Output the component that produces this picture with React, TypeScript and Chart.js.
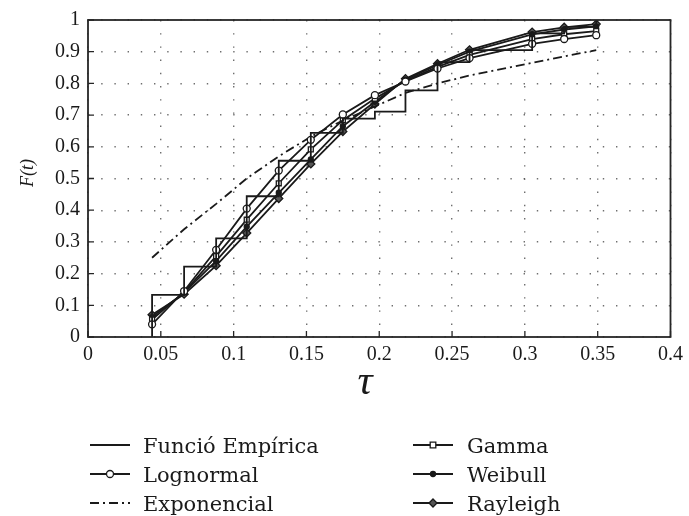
import React, { useEffect, useRef } from "react";
import { Chart, registerables } from "chart.js";
Chart.register(...registerables);

// sample points (τ) and CDF values
const tau = [0.044, 0.066, 0.088, 0.109, 0.131, 0.153, 0.175, 0.197, 0.218, 0.24, 0.262, 0.305, 0.327, 0.349];
const empirical = [0.133, 0.222, 0.311, 0.444, 0.556, 0.644, 0.689, 0.711, 0.778, 0.867, 0.905, 0.958, 0.978, 1.0];
const lognormal = [0.04, 0.145, 0.275, 0.405, 0.525, 0.622, 0.702, 0.763, 0.806, 0.847, 0.88, 0.925, 0.94, 0.952];
const gamma = [0.055, 0.142, 0.255, 0.37, 0.485, 0.592, 0.684, 0.752, 0.808, 0.852, 0.89, 0.94, 0.955, 0.965];
const weibull = [0.063, 0.14, 0.24, 0.348, 0.455, 0.56, 0.665, 0.742, 0.812, 0.858, 0.9, 0.955, 0.97, 0.98];
const rayleigh = [0.07, 0.135, 0.225, 0.328, 0.437, 0.546, 0.648, 0.735, 0.815, 0.862, 0.906, 0.962, 0.977, 0.987];
const exponencial = [0.25, 0.34, 0.42, 0.5, 0.57, 0.632, 0.683, 0.727, 0.77, 0.8, 0.825, 0.865, 0.885, 0.905];

const seriesNames = ["Funció Empírica", "Lognormal", "Exponencial", "Gamma", "Weibull", "Rayleigh"];
const xTickStep = 0.05;
const yTickStep = 0.1;
const xTitle = "τ";
const yTitle = "F(t)";

const INK = "#1a1a1a";

function drawMarker(ctx: CanvasRenderingContext2D, style: string, x: number, y: number, r: number, fill: string) {
  ctx.save();
  ctx.beginPath();
  if (style === "circle") {
    ctx.arc(x, y, r, 0, Math.PI * 2);
  } else if (style === "rect") {
    ctx.rect(x - r * 0.8, y - r * 0.8, r * 1.6, r * 1.6);
  } else if (style === "rectRot") {
    ctx.moveTo(x, y - r);
    ctx.lineTo(x + r, y);
    ctx.lineTo(x, y + r);
    ctx.lineTo(x - r, y);
    ctx.closePath();
  }
  ctx.fillStyle = fill;
  ctx.fill();
  ctx.lineWidth = 1.3;
  ctx.setLineDash([]);
  ctx.strokeStyle = INK;
  ctx.stroke();
  ctx.restore();
}

const decorPlugin = {
  id: "decor",
  afterDraw(chart: any) {
    const { ctx, chartArea, scales } = chart;
    const { left, right, top, bottom } = chartArea;
    const x = scales.x;
    const y = scales.y;
    ctx.save();
    // frame
    ctx.strokeStyle = "#262626";
    ctx.lineWidth = 1.8;
    ctx.setLineDash([]);
    ctx.strokeRect(left, top, right - left, bottom - top);
    // inward ticks
    ctx.lineWidth = 1.3;
    ctx.beginPath();
    y.ticks.forEach((t: any) => {
      const py = y.getPixelForValue(t.value);
      ctx.moveTo(left, py);
      ctx.lineTo(left + 6, py);
    });
    x.ticks.forEach((t: any) => {
      const px = x.getPixelForValue(t.value);
      ctx.moveTo(px, bottom);
      ctx.lineTo(px, bottom - 6);
    });
    ctx.stroke();

    // axis titles
    ctx.fillStyle = INK;
    ctx.textAlign = "center";
    ctx.textBaseline = "middle";
    ctx.save();
    ctx.translate(28, 173);
    ctx.rotate(-Math.PI / 2);
    ctx.font = 'italic 18px "Liberation Serif"';
    ctx.fillText(yTitle, 0, 0);
    ctx.restore();
    ctx.font = 'italic 42px "Liberation Serif"';
    ctx.fillText(xTitle, 365, 383);

    // legend
    const colLine = [90, 413];
    const colText = [143, 467];
    const rowLine = [445, 474, 503];
    const rowBase = [453, 482, 511];
    ctx.font = '21px "DejaVu Serif"';
    ctx.textAlign = "left";
    ctx.textBaseline = "alphabetic";
    chart.data.datasets.forEach((ds: any, i: number) => {
      const col = i < 3 ? 0 : 1;
      const row = i % 3;
      const x0 = colLine[col];
      const ly = rowLine[row];
      ctx.save();
      ctx.strokeStyle = INK;
      ctx.lineWidth = 1.8;
      ctx.setLineDash(ds.borderDash || []);
      ctx.beginPath();
      ctx.moveTo(x0, ly);
      ctx.lineTo(x0 + 40, ly);
      ctx.stroke();
      ctx.restore();
      if (ds.pointRadius > 0) {
        drawMarker(ctx, ds.pointStyle, x0 + 20, ly, ds.pointRadius, ds.pointBackgroundColor);
      }
      ctx.fillStyle = INK;
      ctx.fillText(ds.label, colText[col], rowBase[row]);
    });
    ctx.restore();
  },
};

export default function App() {
  const ref = useRef<HTMLCanvasElement>(null);
  useEffect(() => {
    document.body.style.margin = "0";
    const pts = (ys: number[]) => tau.map((t, i) => ({ x: t, y: ys[i] }));
    const empPts = [{ x: tau[0], y: 0 }, ...pts(empirical)];
    const base = { borderColor: INK, borderWidth: 1.8, pointBorderColor: INK, pointBorderWidth: 1.3, fill: false, tension: 0 };
    const chart = new Chart(ref.current!, {
      type: "line",
      data: {
        datasets: [
          { ...base, label: seriesNames[0], data: empPts, stepped: "before", pointRadius: 0 },
          { ...base, label: seriesNames[1], data: pts(lognormal), pointStyle: "circle", pointRadius: 3.5, pointBackgroundColor: "#ffffff" },
          { ...base, label: seriesNames[2], data: pts(exponencial), borderDash: [9, 4, 2, 4], pointRadius: 0 },
          { ...base, label: seriesNames[3], data: pts(gamma), pointStyle: "rect", pointRadius: 3.5, pointBackgroundColor: "#ffffff" },
          { ...base, label: seriesNames[4], data: pts(weibull), pointStyle: "circle", pointRadius: 2.5, pointBackgroundColor: INK },
          { ...base, label: seriesNames[5], data: pts(rayleigh), pointStyle: "rectRot", pointRadius: 4, pointBackgroundColor: "#555555" },
        ] as any,
      },
      options: {
        animation: false,
        responsive: false,
        devicePixelRatio: 1,
        layout: { padding: { top: 20, right: 14, left: 0, bottom: 0 } },
        plugins: { legend: { display: false }, tooltip: { enabled: false } },
        elements: { line: { borderJoinStyle: "miter" } },
        scales: {
          x: {
            type: "linear",
            min: 0,
            max: 0.4,
            afterFit: (s: any) => { s.height = 179; },
            ticks: {
              stepSize: xTickStep,
              color: INK,
              padding: 6,
              maxRotation: 0,
              font: { family: '"Liberation Serif"', size: 20 },
              callback: (v: any) => String(Math.round(Number(v) * 100) / 100),
            },
            grid: { color: "rgba(50,50,50,0.7)", lineWidth: 1.4, drawTicks: false },
            border: { display: false, dash: [1.4, 11.8] },
          },
          y: {
            type: "linear",
            min: 0,
            max: 1,
            afterFit: (s: any) => { s.width = 88; },
            ticks: {
              stepSize: yTickStep,
              color: INK,
              padding: 8,
              font: { family: '"Liberation Serif"', size: 20 },
              callback: (v: any) => String(Math.round(Number(v) * 10) / 10),
            },
            grid: { color: "rgba(50,50,50,0.7)", lineWidth: 1.4, drawTicks: false },
            border: { display: false, dash: [1.4, 11.8] },
          },
        },
      } as any,
      plugins: [decorPlugin],
    });
    return () => chart.destroy();
  }, []);
  return <canvas ref={ref} width={689} height={516} style={{ display: "block" }} />;
}
